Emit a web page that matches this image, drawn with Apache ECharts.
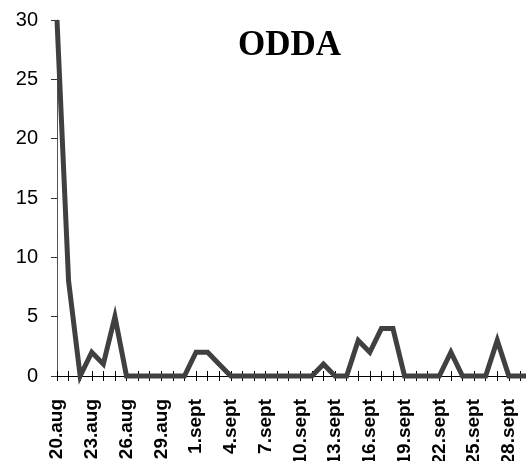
<!DOCTYPE html>
<html>
<head>
<meta charset="utf-8">
<script src="https://cdn.jsdelivr.net/npm/echarts@6/dist/echarts.min.js"></script>
<style>
html,body{margin:0;padding:0;background:#fff;}
#chart{width:526px;height:461px;}
</style>
</head>
<body>
<div id="chart"></div>
<script>
const categories = [
  '20.aug','21.aug','22.aug','23.aug','24.aug','25.aug','26.aug','27.aug','28.aug','29.aug','30.aug','31.aug',
  '1.sept','2.sept','3.sept','4.sept','5.sept','6.sept','7.sept','8.sept','9.sept','10.sept',
  '11.sept','12.sept','13.sept','14.sept','15.sept','16.sept','17.sept','18.sept','19.sept','20.sept',
  '21.sept','22.sept','23.sept','24.sept','25.sept','26.sept','27.sept','28.sept','29.sept','30.sept'
];
const values = [
  30, 8, 0, 2, 1, 5, 0, 0, 0, 0, 0, 0,
  2, 2, 1, 0, 0, 0, 0, 0, 0, 0,
  0, 1, 0, 0, 3, 2, 4, 4, 0, 0,
  0, 0, 2, 0, 0, 0, 3, 0, 0, 0
];
const yTicks = { min: 0, max: 30, interval: 5 };
const titleText = 'ODDA';

const chart = echarts.init(document.getElementById('chart'), null, { renderer: 'canvas' });
chart.setOption({
  animation: false,
  backgroundColor: '#fff',
  title: {
    text: titleText,
    left: 233,
    top: 23,
    textStyle: { fontFamily: 'Liberation Serif', fontWeight: 'bold', fontSize: 35, color: '#000' }
  },
  grid: { left: 57, top: 20, height: 356, width: 475, containLabel: false, outerBoundsMode: 'none' },
  xAxis: [
    {
      type: 'category',
      data: categories,
      boundaryGap: false,
      position: 'bottom',
      axisLine: { show: true, lineStyle: { color: '#000', width: 1 } },
      axisTick: { show: true, interval: 0, inside: false, length: 5, lineStyle: { color: '#000', width: 1 } },
      axisLabel: {
        interval: 2, rotate: 90, margin: 23,
        fontFamily: 'Liberation Sans', fontWeight: 'bold', fontSize: 19, color: '#000'
      },
      splitLine: { show: false }
    },
    {
      type: 'category',
      data: categories,
      boundaryGap: false,
      position: 'bottom',
      offset: 0,
      axisLine: { show: false },
      axisTick: { show: true, interval: 0, inside: true, length: 5, lineStyle: { color: '#000', width: 1 } },
      axisLabel: { show: false },
      splitLine: { show: false }
    }
  ],
  yAxis: {
    type: 'value',
    min: yTicks.min, max: yTicks.max, interval: yTicks.interval,
    axisLine: { show: true, lineStyle: { color: '#555', width: 1 } },
    axisTick: { show: true, length: 6, lineStyle: { color: '#333', width: 1 } },
    axisLabel: { margin: 19, fontFamily: 'Liberation Sans', fontSize: 20, color: '#000' },
    splitLine: { show: false }
  },
  series: [{
    type: 'line',
    xAxisIndex: 0,
    data: values,
    showSymbol: false,
    symbol: 'none',
    clip: false,
    lineStyle: { color: '#404040', width: 5, join: 'miter', cap: 'butt' }
  }]
});
</script>
</body>
</html>
